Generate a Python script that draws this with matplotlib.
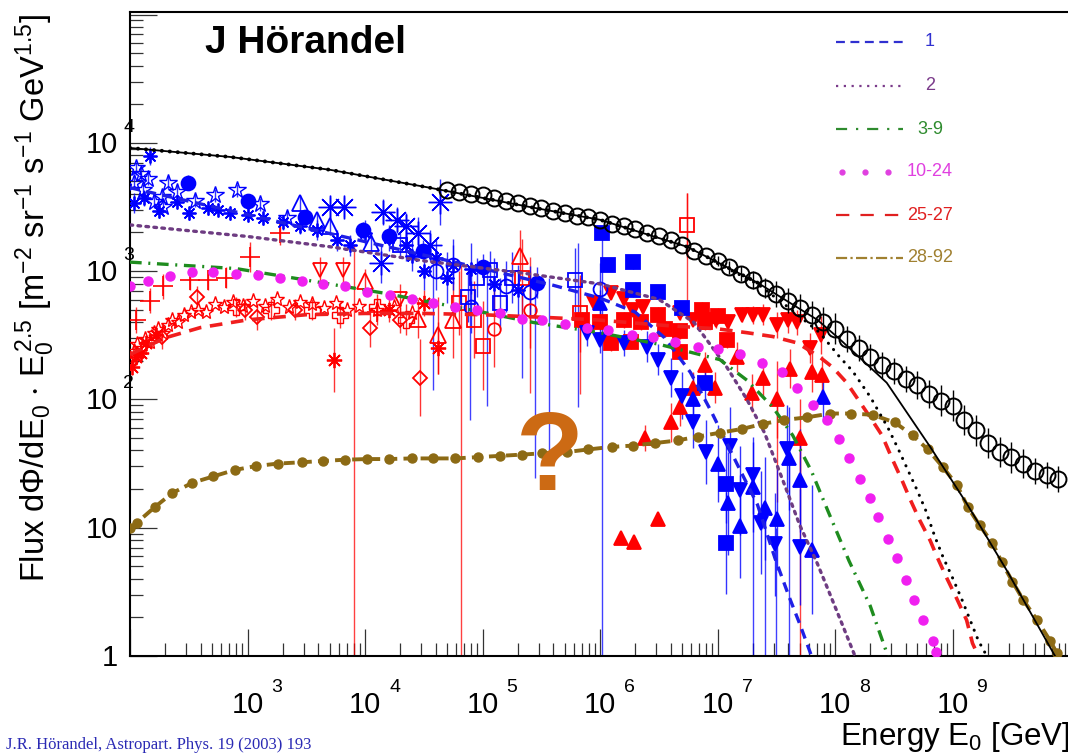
import numpy as np
import matplotlib
matplotlib.use("Agg")
import matplotlib.pyplot as plt
from matplotlib import transforms
from matplotlib.transforms import offset_copy
from matplotlib.ticker import LogLocator, NullFormatter
from matplotlib.lines import Line2D

plt.rcParams['font.family'] = ['Liberation Sans', 'DejaVu Sans']
plt.rcParams['mathtext.fontset'] = 'custom'
plt.rcParams['mathtext.rm'] = 'Liberation Sans'
plt.rcParams['mathtext.it'] = 'Liberation Sans:italic'
plt.rcParams['mathtext.default'] = 'regular'

# ---- model curves: log10(E0 / GeV) and log10(flux * E0^2.5) ----
tot_logE = [2.0, 2.85, 3.70, 4.55, 5.40, 6.0, 6.74, 7.34, 7.85, 8.04, 8.44, 8.81, 9.12, 9.46, 9.86, 9.95]
tot_logF = [3.96, 3.89, 3.79, 3.65, 3.50, 3.40, 3.19, 2.91, 2.62, 2.47, 2.13, 1.63, 1.19, 0.67, 0.02, -0.12]

sum_logE = [7.0, 7.34, 7.6, 7.87, 8.04, 8.15, 8.30, 8.45, 8.54, 8.61, 8.70, 8.77, 8.85, 8.92, 9.00,
            9.08, 9.15, 9.22, 9.28, 9.32]
sum_logF = [3.06, 2.90, 2.72, 2.52, 2.33, 2.22, 2.02, 1.78, 1.61, 1.47, 1.29, 1.14, 0.93, 0.77, 0.61,
            0.44, 0.28, 0.12, 0.02, -0.06]

z1_logE = [2.0, 3.0, 4.0, 5.0, 5.6, 6.0, 6.3, 6.55, 6.77, 6.95, 7.17, 7.34, 7.49, 7.61, 7.70, 7.80]
z1_logF = [3.65, 3.44, 3.23, 3.02, 2.89, 2.79, 2.68, 2.48, 2.21, 1.90, 1.49, 1.18, 0.76, 0.46, 0.25, 0.0]

z2_logE = [2.0, 3.0, 3.7, 4.5, 5.3, 6.0, 6.5, 6.8, 7.08, 7.25, 7.40, 7.56, 7.70, 7.85, 7.94, 8.06, 8.17]
z2_logF = [3.36, 3.27, 3.19, 3.08, 2.99, 2.90, 2.78, 2.60, 2.25, 2.0, 1.74, 1.36, 1.02, 0.72, 0.52, 0.25, 0.0]

z3_logE = [2.0, 2.9, 3.5, 4.15, 5.0, 5.43, 6.0, 6.5, 7.02, 7.25, 7.47, 7.64, 7.80, 7.94, 8.12, 8.30, 8.45]
z3_logF = [3.07, 3.02, 2.93, 2.83, 2.68, 2.60, 2.52, 2.43, 2.31, 2.15, 1.94, 1.72, 1.44, 1.13, 0.74, 0.39, 0.0]

z10_logE = [2.0, 2.15, 2.34, 2.53, 2.71, 2.90, 3.09, 3.28, 3.46, 3.64, 3.83, 4.02, 4.21, 4.40, 4.58, 4.77,
            4.95, 5.15, 5.34, 5.51, 5.70, 5.89, 6.07, 6.27, 6.45, 6.64, 6.83, 7.00, 7.19, 7.38, 7.55, 7.68,
            7.81, 7.93, 8.03, 8.12, 8.21, 8.30, 8.37, 8.45, 8.53, 8.60, 8.67, 8.75, 8.83, 8.86]
z10_logF = [2.88, 2.92, 2.96, 2.99, 2.99, 2.98, 2.97, 2.95, 2.92, 2.90, 2.88, 2.84, 2.81, 2.78, 2.75, 2.72,
            2.70, 2.67, 2.63, 2.62, 2.59, 2.56, 2.54, 2.50, 2.49, 2.45, 2.41, 2.39, 2.35, 2.28, 2.21, 2.09,
            1.96, 1.84, 1.69, 1.54, 1.38, 1.23, 1.08, 0.91, 0.76, 0.59, 0.44, 0.28, 0.12, 0.03]

z25_logE = [2.0, 2.3, 2.6, 3.0, 3.5, 4.0, 4.5, 5.0, 5.51, 5.97, 6.5, 7.0, 7.25, 7.47, 7.68, 7.87, 7.98,
            8.10, 8.30, 8.40, 8.49, 8.57, 8.64, 8.72, 8.81, 8.87, 8.95, 9.04, 9.12, 9.17, 9.22]
z25_logF = [2.35, 2.48, 2.56, 2.62, 2.66, 2.67, 2.67, 2.66, 2.64, 2.62, 2.58, 2.55, 2.52, 2.49, 2.44, 2.33,
            2.25, 2.13, 1.86, 1.72, 1.53, 1.37, 1.22, 1.06, 0.90, 0.77, 0.61, 0.44, 0.28, 0.10, 0.0]

z28_logE = [2.00, 2.06, 2.21, 2.36, 2.53, 2.71, 2.89, 3.07, 3.26, 3.46, 3.64, 3.83, 4.02, 4.20, 4.40, 4.58,
            4.77, 4.96, 5.15, 5.34, 5.51, 5.72, 5.90, 6.10, 6.28, 6.47, 6.66, 6.83, 7.02, 7.21, 7.39, 7.57,
            7.76, 7.96, 8.14, 8.32, 8.51, 8.66, 8.79, 8.92, 9.04, 9.13, 9.23, 9.34, 9.42, 9.51, 9.60, 9.72,
            9.83, 9.89]
z28_logF = [1.00, 1.04, 1.16, 1.27, 1.35, 1.40, 1.45, 1.48, 1.50, 1.51, 1.52, 1.53, 1.535, 1.535, 1.54, 1.54,
            1.54, 1.55, 1.56, 1.57, 1.58, 1.59, 1.61, 1.63, 1.64, 1.66, 1.68, 1.71, 1.74, 1.77, 1.81, 1.84,
            1.86, 1.89, 1.89, 1.88, 1.82, 1.72, 1.61, 1.47, 1.33, 1.16, 1.02, 0.88, 0.73, 0.58, 0.44, 0.28,
            0.12, 0.02]

# ---- all-particle air shower data (open circles) ----
allp_logE = [4.7, 4.8, 4.9, 5.0, 5.1, 5.2, 5.3, 5.4, 5.5, 5.6, 5.7, 5.8, 5.9, 6.0, 6.1, 6.2, 6.3, 6.4, 6.5,
             6.6, 6.7, 6.8, 6.9, 7.0, 7.1, 7.2, 7.3, 7.4, 7.5, 7.6, 7.7, 7.8, 7.9, 8.0, 8.1, 8.2, 8.3, 8.4,
             8.5, 8.6, 8.7, 8.8, 8.9, 9.0, 9.1, 9.2, 9.3, 9.4, 9.5, 9.6, 9.7, 9.8, 9.9]
allp_logF = [3.63, 3.62, 3.60, 3.59, 3.57, 3.55, 3.53, 3.51, 3.49, 3.47, 3.45, 3.43, 3.42, 3.40, 3.37, 3.35,
             3.33, 3.30, 3.27, 3.24, 3.20, 3.16, 3.12, 3.08, 3.03, 2.98, 2.93, 2.87, 2.82, 2.77, 2.71, 2.66,
             2.60, 2.55, 2.47, 2.40, 2.33, 2.27, 2.22, 2.16, 2.11, 2.04, 1.99, 1.95, 1.84, 1.76, 1.66, 1.59,
             1.55, 1.50, 1.44, 1.41, 1.38]
allp_err = [0, 0, 0, 0, 0, 0, 0, 0, 0, 0, 0, 0, 0, 0, 0, 0, 0, 0, 0, 0, 0, 0, 0,
            0.04, 0.05, 0.06, 0.07, 0.08,
            0.10, 0.10, 0.11, 0.11, 0.12, 0.12, 0.10, 0.10, 0.10, 0.10,
            0.10, 0.10, 0.11, 0.11, 0.12, 0.12, 0.12, 0.12, 0.12, 0.12, 0.12, 0.11, 0.10, 0.10, 0.10]

# ---- proton data (blue) ----
p_ostar_logE = [2.03, 2.09, 2.11, 2.20, 2.27, 2.32, 2.28, 2.72, 2.91, 3.11, 3.34, 2.05, 2.15, 2.40, 2.55]
p_ostar_logF = [3.69, 3.76, 3.63, 3.54, 3.58, 3.69, 3.50, 3.59, 3.63, 3.52, 3.41, 3.80, 3.72, 3.62, 3.55]
p_ostar_err = [0.05, 0.05, 0.05, 0.05, 0.05, 0.05, 0.05, 0.05, 0.05, 0.05, 0.06, 0.05, 0.05, 0.05, 0.05]

p_ast_logE = [2.03, 2.12, 2.17, 2.25, 2.40, 2.50, 2.66, 2.75, 2.85, 3.0, 3.13, 3.30, 3.45, 3.59, 3.76,
              3.87, 4.00, 4.20, 4.35, 4.60, 4.75, 4.90, 4.40, 4.50, 4.70, 5.10, 5.30]
p_ast_logF = [3.53, 3.57, 3.90, 3.47, 3.54, 3.45, 3.49, 3.48, 3.45, 3.44, 3.41, 3.38, 3.35, 3.32, 3.24,
              3.20, 3.30, 3.26, 3.20, 3.10, 3.05, 3.02, 3.12, 3.00, 2.95, 2.90, 2.85]
p_ast_err = [0.08, 0.06, 0.07, 0.06, 0.05, 0.05, 0.05, 0.05, 0.05, 0.05, 0.05, 0.06, 0.06, 0.08, 0.08,
             0.08, 0.10, 0.10, 0.12, 0.15, 0.2, 0.2, 0.12, 0.15, 0.2, 0.2, 0.2]

p_bigast_logE = [3.70, 3.82, 4.15, 4.27, 4.14, 4.64, 4.45, 4.55, 4.35]
p_bigast_logF = [3.50, 3.50, 3.46, 3.40, 3.06, 3.54, 3.30, 3.20, 3.35]
p_bigast_err = [0.08, 0.08, 0.10, 0.10, 0.15, 0.18, 0.12, 0.12, 0.1]

p_circ_logE = [2.49, 3.0, 3.49, 3.98, 4.49, 5.0, 5.46, 4.2]
p_circ_logF = [3.69, 3.55, 3.42, 3.32, 3.16, 3.03, 2.91, 3.27]
p_circ_err = [0.06, 0.05, 0.05, 0.06, 0.08, 0.1, 0.12, 0.07]

p_otri_logE = [3.45, 3.59, 3.70, 4.05]
p_otri_logF = [3.53, 3.40, 3.35, 3.22]
p_otri_err = [0.06, 0.06, 0.07, 0.08]

p_osq_logE = [5.06, 5.15, 5.79, 4.88, 4.30, 4.95, 5.25]
p_osq_logF = [3.01, 2.75, 2.93, 2.80, 3.20, 2.95, 2.95]
p_osq_err = [0.15, 0.2, 0.25, 0.2, 0.1, 0.15, 0.2]

p_ocirc_logE = [5.40, 6.0, 4.9, 5.2, 4.60, 4.75]
p_ocirc_logF = [2.84, 2.86, 2.72, 2.88, 3.00, 3.05]
p_ocirc_err = [0.2, 0.2, 0.2, 0.2, 0.15, 0.15]

p_sq_logE = [6.02, 6.07, 6.28, 6.28, 6.49, 6.70, 6.89, 7.07, 7.07]
p_sq_logF = [3.30, 3.05, 3.07, 2.85, 2.84, 2.71, 2.13, 1.34, 0.88]
p_sq_err = [0.05, 0.05, 0.05, 0.05, 0.05, 0.06, 0.15, 0.3, 0.4]

p_dtri_logE = [5.89, 6.00, 6.20, 6.40, 6.49, 6.60, 6.70, 6.79, 6.90, 7.11, 7.19, 7.30, 7.37, 7.49, 7.59, 7.70]
p_dtri_logF = [2.52, 2.46, 2.44, 2.41, 2.31, 2.17, 2.03, 1.82, 1.59, 1.64, 1.29, 1.41, 1.04, 0.87, 1.61, 0.85]
p_dtri_err = [0.1, 0.1, 0.1, 0.12, 0.12, 0.15, 0.18, 0.2, 0.25, 0.3, 0.35, 0.3, 0.4, 0.4, 0.35, 0.45]

p_utri_logE = [6.00, 6.79, 7.00, 7.09, 7.19, 7.30, 7.40, 7.51, 7.61, 7.70, 7.80, 7.90]
p_utri_logF = [2.75, 2.00, 1.50, 1.19, 1.01, 1.32, 1.15, 1.07, 1.54, 1.37, 0.83, 2.02]
p_utri_err = [0.1, 0.2, 0.3, 0.4, 0.4, 0.35, 0.4, 0.4, 0.4, 0.4, 0.5, 0.2]

# ---- iron data (red) ----
fe_ostar_logE = [2.00, 2.03, 2.06, 2.10, 2.13, 2.17, 2.20, 2.24, 2.28, 2.32, 2.36, 2.41, 2.46, 2.52, 2.58,
                 2.65, 2.72, 2.80, 2.88, 2.96, 3.05, 3.15, 3.25, 3.35, 3.45, 3.55, 3.65, 3.75, 3.85, 3.95,
                 4.10, 4.25, 4.40]
fe_ostar_logF = [2.30, 2.38, 2.43, 2.40, 2.47, 2.45, 2.52, 2.55, 2.52, 2.58, 2.62, 2.60, 2.66, 2.68, 2.70,
                 2.68, 2.74, 2.72, 2.76, 2.73, 2.77, 2.73, 2.78, 2.72, 2.76, 2.74, 2.71, 2.75, 2.70, 2.73,
                 2.70, 2.72, 2.67]

fe_ast_logE = [2.02, 2.05, 2.09, 2.14, 2.22, 3.74, 4.62, 4.20, 4.50]
fe_ast_logF = [2.25, 2.33, 2.36, 2.44, 2.50, 2.31, 2.40, 2.70, 2.75]
fe_ast_err = [0.06, 0.06, 0.06, 0.06, 0.06, 0.25, 0.2, 0.1, 0.1]

fe_plus_logE = [2.17, 2.28, 2.51, 2.66, 2.82, 3.02, 3.28, 4.10, 2.05]
fe_plus_logF = [2.77, 2.88, 2.93, 2.93, 2.95, 3.11, 3.30, 2.68, 2.62]
fe_plus_err = [0.1, 0.1, 0.08, 0.08, 0.08, 0.12, 0.1, 0.1, 0.1]

fe_diam_logE = [2.27, 2.57, 2.98, 3.08, 4.04, 4.47, 3.40, 4.30]
fe_diam_logF = [2.49, 2.80, 2.70, 2.64, 2.56, 2.17, 2.70, 2.62]
fe_diam_err = [0.1, 0.08, 0.08, 0.1, 0.15, 0.3, 0.08, 0.1]

fe_odtri_logE = [3.62, 3.81, 4.30]
fe_odtri_logF = [3.01, 3.01, 2.78]
fe_odtri_err = [0.1, 0.1, 0.12]

fe_otri_logE = [4.00, 4.45, 5.32, 4.75, 4.62]
fe_otri_logF = [2.92, 2.63, 3.12, 2.62, 2.50]
fe_otri_err = [0.1, 0.15, 0.2, 0.3, 0.3]

fe_osq_logE = [6.74, 5.83, 5.00, 4.93, 4.80, 5.34]
fe_osq_logF = [3.36, 2.67, 2.42, 2.62, 2.75, 2.95]
fe_osq_err = [0.25, 0.3, 0.35, 0.3, 0.25, 0.3]

fe_ocross_logE = [3.79, 4.10, 3.55, 4.35, 2.90, 3.20]
fe_ocross_logF = [2.66, 2.72, 2.70, 2.62, 2.72, 2.70]
fe_ocross_err = [0.1, 0.1, 0.08, 0.12, 0.08, 0.08]

fe_ocirc_logE = [5.40, 5.10]
fe_ocirc_logF = [2.70, 2.55]
fe_ocirc_err = [0.3, 0.3]

fe_sq_logE = [6.09, 6.26, 6.49, 6.68, 6.87, 6.89, 7.08, 6.68, 6.35, 6.20, 6.00, 5.85, 6.55, 7.00]
fe_sq_logF = [2.44, 2.45, 2.66, 2.53, 2.70, 2.60, 2.46, 2.37, 2.60, 2.62, 2.60, 2.62, 2.55, 2.65]
fe_sq_err = [0.06] * 14

fe_dtri_logE = [6.09, 6.20, 6.28, 6.37, 6.68, 6.79, 6.99, 7.09, 7.21, 7.30, 7.39, 7.51, 7.68, 7.79, 5.95,
                7.88, 7.60]
fe_dtri_logF = [2.83, 2.78, 2.70, 2.72, 2.67, 2.62, 2.62, 2.60, 2.66, 2.66, 2.66, 2.58, 2.60, 2.40, 2.75,
                2.50, 2.62]
fe_dtri_err = [0.05, 0.05, 0.05, 0.05, 0.05, 0.05, 0.06, 0.06, 0.06, 0.07, 0.08, 0.1, 0.1, 0.12, 0.05,
               0.15, 0.1]

fe_utri_logE = [6.89, 6.98, 7.17, 7.29, 7.39, 7.51, 7.62, 7.80, 7.89, 7.70, 6.68, 6.60, 6.38, 6.79, 6.18,
                6.29, 6.49]
fe_utri_logF = [2.27, 2.09, 2.33, 2.05, 2.17, 2.00, 2.24, 2.21, 2.19, 1.70, 1.94, 1.82, 1.70, 2.09, 0.92,
                0.89, 1.07]
fe_utri_err = [0.1, 0.12, 0.12, 0.15, 0.15, 0.3, 0.15, 0.15, 0.15, 0.3, 0.15, 0.15, 0.1, 0.12, 0, 0, 0]

# long error bars: log10(E), top and bottom of the bar
bar_blue_logE = [6.02, 4.58, 4.89, 5.04, 5.34, 5.45, 5.81, 7.30, 7.40, 7.50, 7.61, 5.57]
bar_blue_top = [3.35, 3.10, 3.00, 3.05, 2.83, 2.95, 3.22, 1.30, 1.10, 1.00, 1.50, 2.95]
bar_blue_bot = [-1, 2.07, 1.84, 1.95, 2.17, 1.39, 1.94, -1, -1, -1, -1, 1.60]
bar_red_logE = [3.91, 4.82, 5.40, 5.83, 6.74, 7.51, 7.70]
bar_red_top = [3.20, 3.05, 3.11, 2.95, 3.61, 2.00, 1.70]
bar_red_bot = [-1, -1, 2.05, 2.04, 2.77, 1.20, -1]

BLUE = '#0000ff'
RED = '#ff0000'

fig = plt.figure(figsize=(10.68, 7.54), dpi=100)
ax = fig.add_axes([130 / 1068, (754 - 656) / 754, 940 / 1068, 644 / 754])
ax.set_xscale('log')
ax.set_yscale('log')
ax.set_xlim(1e2, 1e10)
ax.set_ylim(1, 10 ** (644 / 128.3))


def pts(le, lf):
    return 10 ** np.array(le, float), 10 ** np.array(lf, float)


def series(le, lf, err, color, marker, ms, filled=True, mew=1.3, elw=1.0):
    x, y = pts(le, lf)
    if err is not None:
        e = np.array(err, float)
        yerr = [y - y / 10 ** e, y * 10 ** e - y]
        ax.errorbar(x, y, yerr=yerr, fmt='none', ecolor=color, elinewidth=elw, alpha=0.8, zorder=2)
    ax.plot(x, y, ls='none', marker=marker, ms=ms, mec=color, mew=mew,
            mfc=color if filled else 'none', zorder=3)


# long error bars
for le, t, b in zip(bar_blue_logE, bar_blue_top, bar_blue_bot):
    ax.vlines(10 ** le, 10 ** b, 10 ** t, color=BLUE, lw=1.0, alpha=0.75, zorder=2)
for le, t, b in zip(bar_red_logE, bar_red_top, bar_red_bot):
    ax.vlines(10 ** le, 10 ** b, 10 ** t, color=RED, lw=1.0, alpha=0.75, zorder=2)

AST = (8, 2, 0)
# iron
series(fe_ostar_logE, fe_ostar_logF, None, RED, '*', 11, filled=False, mew=1.0)
series(fe_ast_logE, fe_ast_logF, fe_ast_err, RED, AST, 11)
series(fe_plus_logE, fe_plus_logF, fe_plus_err, RED, '+', 14, mew=1.2)
series(fe_diam_logE, fe_diam_logF, fe_diam_err, RED, 'D', 7, filled=False)
series(fe_odtri_logE, fe_odtri_logF, fe_odtri_err, RED, 'v', 10, filled=False)
series(fe_otri_logE, fe_otri_logF, fe_otri_err, RED, '^', 11, filled=False)
series(fe_osq_logE, fe_osq_logF, fe_osq_err, RED, 's', 10, filled=False)
series(fe_ocross_logE, fe_ocross_logF, fe_ocross_err, RED, 'P', 11, filled=False, mew=1.0)
series(fe_ocirc_logE, fe_ocirc_logF, fe_ocirc_err, RED, 'o', 9, filled=False)
series(fe_sq_logE, fe_sq_logF, fe_sq_err, RED, 's', 10)
series(fe_dtri_logE, fe_dtri_logF, fe_dtri_err, RED, 'v', 10)
series(fe_utri_logE, fe_utri_logF, fe_utri_err, RED, '^', 10)
# protons
series(p_ostar_logE, p_ostar_logF, p_ostar_err, BLUE, '*', 13, filled=False, mew=1.0)
series(p_ast_logE, p_ast_logF, p_ast_err, BLUE, AST, 10)
series(p_bigast_logE, p_bigast_logF, p_bigast_err, BLUE, AST, 17, mew=1.0)
series(p_circ_logE, p_circ_logF, p_circ_err, BLUE, 'o', 10)
series(p_otri_logE, p_otri_logF, p_otri_err, BLUE, '^', 12, filled=False)
series(p_osq_logE, p_osq_logF, p_osq_err, BLUE, 's', 10, filled=False)
series(p_ocirc_logE, p_ocirc_logF, p_ocirc_err, BLUE, 'o', 10, filled=False)
series(p_sq_logE, p_sq_logF, p_sq_err, BLUE, 's', 10)
series(p_dtri_logE, p_dtri_logF, p_dtri_err, BLUE, 'v', 10)
series(p_utri_logE, p_utri_logF, p_utri_err, BLUE, '^', 10)

# model lines
styles = {
    'z1': dict(color='#1f1fe6', lw=2.4, ls=(0, (3, 2))),
    'z2': dict(color='#6e3c82', lw=2.4, ls=(0, (0.8, 1.6)), dash_capstyle='round'),
    'z3': dict(color='#1e8c1e', lw=2.4, ls=(0, (3.5, 2, 0.6, 2))),
    'z25': dict(color='#f01e1e', lw=2.6, ls=(0, (3.5, 2.4))),
    'z28': dict(color='#8c6a14', lw=2.8, ls=(0, (2.8, 1.6))),
}
ax.plot(*pts(z1_logE, z1_logF), zorder=5, **styles['z1'])
ax.plot(*pts(z2_logE, z2_logF), zorder=5, **styles['z2'])
ax.plot(*pts(z3_logE, z3_logF), zorder=5, **styles['z3'])
ax.plot(*pts(z25_logE, z25_logF), zorder=5, **styles['z25'])
ax.plot(*pts(z28_logE, z28_logF), zorder=5, **styles['z28'])
ax.plot(*pts(z28_logE, z28_logF), ls='none', marker='o', ms=6.5, color='#8c6a14', zorder=6)
ax.plot(*pts(z10_logE, z10_logF), ls='none', marker='o', ms=6.5, color='#f020f0', mec='#f020f0', zorder=6)

# total and sum
ax.plot(*pts(tot_logE, tot_logF), color='black', lw=1.3, zorder=7)
ax.plot(*pts(tot_logE[:8], tot_logF[:8]), color='black', lw=2.8, ls=(0, (0.05, 2.0)),
        dash_capstyle='round', zorder=7)
ax.plot(*pts(sum_logE, sum_logF), color='black', lw=2.2, ls=(0, (0.05, 2.6)),
        dash_capstyle='round', zorder=7)

# all-particle data
xa, ya = pts(allp_logE, allp_logF)
ea = np.array(allp_err)
ax.errorbar(xa, ya, yerr=[ya - ya / 10 ** ea, ya * 10 ** ea - ya], fmt='none', ecolor='black',
            elinewidth=1.0, zorder=8)
ax.plot(xa, ya, ls='none', marker='o', ms=11.5, mfc='none', mec='black', mew=1.4, zorder=8)

# axes styling (ROOT look)
for s in ['left', 'bottom', 'top']:
    ax.spines[s].set_linewidth(1.5)
ax.spines['right'].set_visible(False)
ax.xaxis.set_major_locator(LogLocator(base=10, numticks=20))
ax.xaxis.set_minor_locator(LogLocator(base=10, subs=np.arange(2, 10), numticks=100))
ax.yaxis.set_major_locator(LogLocator(base=10, numticks=20))
ax.yaxis.set_minor_locator(LogLocator(base=10, subs=np.arange(2, 10), numticks=100))
ax.xaxis.set_major_formatter(NullFormatter())
ax.xaxis.set_minor_formatter(NullFormatter())
ax.yaxis.set_major_formatter(NullFormatter())
ax.yaxis.set_minor_formatter(NullFormatter())
ax.tick_params(which='major', direction='in', length=19.5, width=0.9, color='#333333',
               top=False, right=False)
ax.tick_params(which='minor', direction='in', length=9.5, width=0.9, color='#333333',
               top=False, right=False)

# tick labels drawn ROOT style: "10" with a detached exponent
tx = transforms.blended_transform_factory(ax.transData, fig.transFigure)
for n in range(3, 10):
    ax.text(10 ** n, 1 - 713 / 754, '10', transform=tx, ha='center', va='baseline', fontsize=21)
    ax.text(10 ** n, 1 - 692 / 754, str(n), transform=offset_copy(tx, fig, x=24, units='dots'),
            ha='left', va='baseline', fontsize=14)
ty = transforms.blended_transform_factory(fig.transFigure, ax.transData)
for n in range(2, 5):
    ax.text(118 / 1068, 10 ** n, '10', transform=offset_copy(ty, fig, y=-10, units='dots'),
            ha='right', va='baseline', fontsize=21)
    ax.text(123 / 1068, 10 ** n, str(n), transform=offset_copy(ty, fig, y=11, units='dots'),
            ha='left', va='baseline', fontsize=14)
ax.text(118 / 1068, 10, '10', transform=offset_copy(ty, fig, y=-10, units='dots'),
        ha='right', va='baseline', fontsize=21)
ax.text(118 / 1068, 1, '1', transform=offset_copy(ty, fig, y=-10, units='dots'),
        ha='right', va='baseline', fontsize=21)

fig.text(35 / 1068, 1 - 298 / 754,
         r'Flux d$\Phi$/dE$_0$ $\cdot$ E$_0^{\,2.5}$ [m$^{-2}$ sr$^{-1}$ s$^{-1}$ GeV$^{1.5}$]',
         rotation=90, ha='center', va='center', fontsize=23.5)
fig.text(1070 / 1068, 1 - 745 / 754, r'Energy E$_0$ [GeV]', ha='right', va='baseline', fontsize=22.5)

fig.text(205 / 1068, 1 - 53 / 754, 'J Hörandel', fontsize=28, fontweight='bold', ha='left',
         va='baseline')
fig.text(550 / 1068, 1 - 490 / 754, '?', fontsize=80, fontweight='bold', color='#cc6a14',
         ha='center', va='baseline')
fig.text(6 / 1068, 1 - 749 / 754, 'J.R. Hörandel, Astropart. Phys. 19 (2003) 193',
         family='Liberation Serif', fontsize=12, color='#2a2ab4', ha='left', va='baseline')

# legend
leg_y = [42, 86, 129, 172, 215, 258]
leg_names = ['1', '2', '3-9', '10-24', '25-27', '28-92']
leg_colors = ['#3030d0', '#7a3a8a', '#2e8b2e', '#e040e0', '#e02020', '#a08030']
leg_ls = [(0, (4, 2.5)), (0, (1, 2.5)), (0, (5, 4, 1, 4)), None, (0, (6, 5)), (0, (5, 1.5, 1, 1.5))]
for yy, name, c, ls in zip(leg_y, leg_names, leg_colors, leg_ls):
    yf = 1 - yy / 754
    if ls is None:
        fig.add_artist(Line2D([842 / 1068, 865 / 1068, 888 / 1068], [yf] * 3, ls='none', marker='o',
                              ms=3.5, color=c))
    else:
        fig.add_artist(Line2D([836 / 1068, 903 / 1068], [yf, yf], color=c, lw=1.6, ls=ls))
    fig.text(930 / 1068, yf, name, color=c, fontsize=13, ha='center', va='center')

fig.savefig('out.png', dpi=100)
